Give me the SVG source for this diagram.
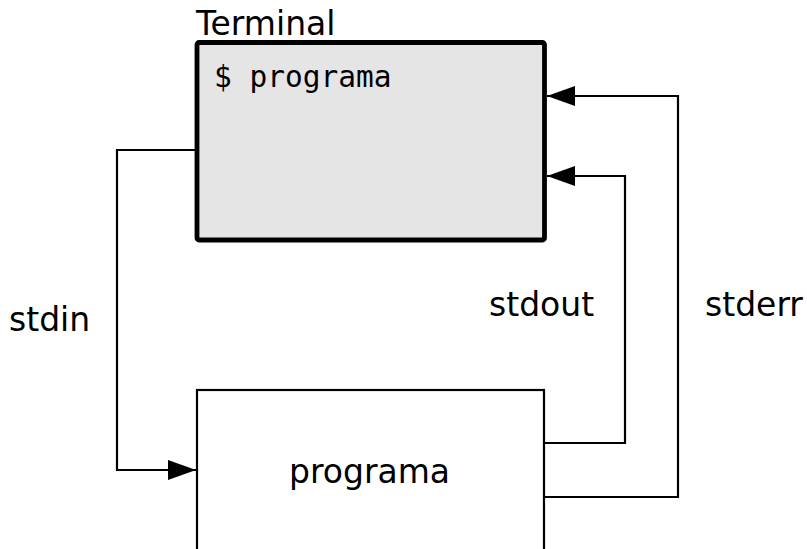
<svg xmlns="http://www.w3.org/2000/svg" width="807" height="549" viewBox="0 0 807 549">
<style>
.lbl{font-family:"DejaVu Sans","Liberation Sans",sans-serif;font-size:33px;fill:#000}
.mono{font-family:"DejaVu Sans Mono","Liberation Mono",monospace;font-size:29.5px;fill:#000}
.conn{fill:none;stroke:#000;stroke-width:2.2}
</style>
<defs>
<marker id="ah" markerUnits="userSpaceOnUse" markerWidth="30" markerHeight="22" refX="28" refY="10" orient="auto">
<path d="M0,0 L28,10 L0,20 Z" fill="#000"/>
</marker>
</defs>
<rect width="807" height="549" fill="#fff"/>
<g id="terminal">
<rect x="197" y="42.5" width="347.5" height="197.5" rx="2" fill="#e5e5e5" stroke="#000" stroke-width="4.8"/>
<text class="lbl" x="196" y="35">Terminal</text>
<text class="mono" x="214" y="87">$ programa</text>
</g>
<g id="programa">
<rect x="197" y="390" width="347" height="170" fill="#fff" stroke="#000" stroke-width="2.2"/>
<text class="lbl" x="289" y="483">programa</text>
</g>
<g id="connectors">
<path class="conn" d="M195,150 H117 V470 H196" marker-end="url(#ah)"/>
<path class="conn" d="M544,443 H625 V176 H547" marker-end="url(#ah)"/>
<path class="conn" d="M544,497 H678 V96 H547" marker-end="url(#ah)"/>
</g>
<g id="labels">
<text class="lbl" x="9" y="331">stdin</text>
<text class="lbl" x="489" y="316">stdout</text>
<text class="lbl" x="705" y="316">stderr</text>
</g>
</svg>
